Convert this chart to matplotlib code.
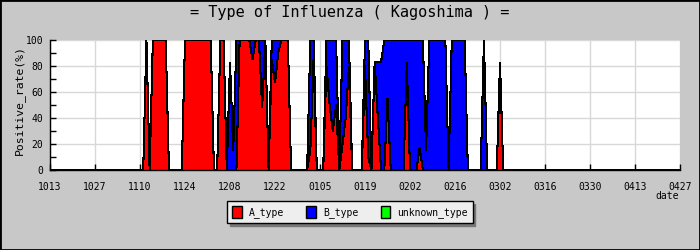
import matplotlib
matplotlib.use("Agg")
import matplotlib.pyplot as plt
import numpy as np
from matplotlib.patches import Patch, Rectangle

# etichette dell'asse x (una ogni 14 giorni, dal 13/10 al 27/04)
date_labels = ["1013", "1027", "1110", "1124", "1208", "1222", "0105",
               "0119", "0202", "0216", "0302", "0316", "0330", "0413", "0427"]

# percentuale giornaliera, una riga = due settimane (197 giorni in totale)
a_type = [
    0, 0, 0, 0, 0, 0, 0, 0, 0, 0, 0, 0, 0, 0,
    0, 0, 0, 0, 0, 0, 0, 0, 0, 0, 0, 0, 0, 0,
    0, 0, 100, 0, 100, 100, 100, 100, 100, 0, 0, 0, 0, 0,
    100, 100, 100, 100, 100, 100, 100, 100, 100, 0, 0, 100, 100, 0,
    0, 0, 0, 100, 100, 100, 100, 85, 100, 100, 48, 100, 0, 85,
    67, 90, 100, 100, 100, 0, 0, 0, 0, 0, 0, 15, 85, 0,
    0, 0, 80, 50, 30, 50, 0, 20, 40, 80, 0, 0, 0, 0,
    80, 10, 0, 83, 40, 0, 0, 55, 0, 0, 0, 0, 0, 83,
    0, 0, 0, 17, 0, 0, 0, 0, 0, 0, 0, 0, 0, 0,
    0, 0, 0, 0, 0, 0, 0, 0, 0, 0, 0, 0, 0, 0,
    83, 0, 0, 0, 0, 0, 0, 0, 0, 0, 0, 0, 0, 0,
    0, 0, 0, 0, 0, 0, 0, 0, 0, 0, 0, 0, 0, 0,
    0, 0, 0, 0, 0, 0, 0, 0, 0, 0, 0, 0, 0, 0,
    0, 0, 0, 0, 0, 0, 0, 0, 0, 0, 0, 0, 0, 0,
    0,
]
b_type = [
    0, 0, 0, 0, 0, 0, 0, 0, 0, 0, 0, 0, 0, 0,
    0, 0, 0, 0, 0, 0, 0, 0, 0, 0, 0, 0, 0, 0,
    0, 0, 0, 0, 0, 0, 0, 0, 0, 0, 0, 0, 0, 0,
    0, 0, 0, 0, 0, 0, 0, 0, 0, 0, 0, 0, 0, 0,
    83, 15, 100, 0, 0, 0, 0, 15, 0, 0, 52, 0, 0, 15,
    33, 10, 0, 0, 0, 0, 0, 0, 0, 0, 0, 85, 15, 0,
    0, 0, 20, 50, 70, 50, 0, 80, 60, 20, 0, 0, 0, 0,
    20, 90, 0, 0, 43, 83, 100, 45, 100, 100, 100, 100, 100, 17,
    100, 100, 100, 83, 100, 15, 100, 100, 100, 100, 100, 100, 0, 100,
    100, 100, 100, 100, 0, 0, 0, 0, 0, 100, 0, 0, 0, 0,
    0, 0, 0, 0, 0, 0, 0, 0, 0, 0, 0, 0, 0, 0,
    0, 0, 0, 0, 0, 0, 0, 0, 0, 0, 0, 0, 0, 0,
    0, 0, 0, 0, 0, 0, 0, 0, 0, 0, 0, 0, 0, 0,
    0, 0, 0, 0, 0, 0, 0, 0, 0, 0, 0, 0, 0, 0,
    0,
]
unknown_type = [0] * len(a_type)

series_names = ["A_type", "B_type", "unknown_type"]
series_colors = ["#ff0000", "#0000ff", "#00ff00"]

plt.rcParams["font.family"] = ["DejaVu Sans Mono"]

days = list(range(len(a_type)))

fig = plt.figure(figsize=(7, 2.5), dpi=100, facecolor="#c8c8c8")
ax = fig.add_axes([50 / 700, 80 / 250, 630 / 700, 130 / 250])

# aree impilate senza bordo, senza antialias (come l'originale)
layers = ax.stackplot(days, a_type, b_type, unknown_type, colors=series_colors,
                      linewidth=0)
for layer in layers:
    layer.set_antialiased(False)

# contorni neri sottili sopra ogni strato
top = np.zeros(len(days))
for values in [a_type, b_type, unknown_type]:
    top = top + np.array(values)
    ax.plot(days, top, color="black", linewidth=0.75, antialiased=False,
            solid_joinstyle="bevel")

ax.set_xlim(0, len(a_type) - 1)
ax.set_ylim(0, 100)
ax.set_xticks(range(0, len(a_type), 14))
ax.set_xticklabels(date_labels)
ax.set_yticks(range(0, 101, 20))
ax.set_yticks(range(10, 100, 20), minor=True)

ax.grid(True, color="#d8d8d8", linewidth=1)
ax.set_axisbelow(True)
ax.tick_params(axis="both", which="both", direction="in", labelsize=7,
               color="black", width=1)
ax.tick_params(axis="x", length=4, pad=9)
ax.tick_params(axis="y", which="major", length=4, pad=5)
ax.tick_params(axis="y", which="minor", length=4)

for side in ["top", "right"]:
    ax.spines[side].set_visible(False)
for side in ["left", "bottom"]:
    ax.spines[side].set_linewidth(1)
    ax.spines[side].set_zorder(5)

fig.text(0.5, 1 - 13 / 250, "= Type of Influenza ( Kagoshima ) =",
         ha="center", va="center", fontsize=11)
fig.text(19 / 700, 1 - 100 / 250, "Positive_rate(%)", rotation=90,
         ha="center", va="center", fontsize=8.2)
fig.text(667 / 700, 1 - 196 / 250, "date", ha="center", va="center", fontsize=7)

handles = [Patch(facecolor=c, edgecolor="black", linewidth=1)
           for c in series_colors]
fig.legend(handles, series_names, loc="center", bbox_to_anchor=(0.5, 1 - 212 / 250),
           ncol=3, fontsize=7, frameon=True, fancybox=False,
           edgecolor="black", facecolor="#eeeeee", framealpha=1,
           handlelength=1.0, handleheight=1.5, handletextpad=0.7,
           columnspacing=2.3, borderpad=0.5,
           shadow={"ox": 2, "oy": -2, "color": "#777777", "alpha": 1})

# bordo esterno dell'immagine
fig.add_artist(Rectangle((0, 0), 1, 1, transform=fig.transFigure, fill=False,
                         edgecolor="black", linewidth=2))

fig.savefig("out.png", dpi=100, facecolor=fig.get_facecolor())
